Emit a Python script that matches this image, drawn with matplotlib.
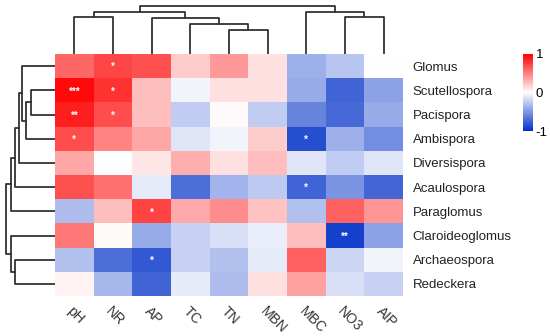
"""
Clustered correlation heatmap: AMF genera vs soil properties.
"""
import numpy as np
import matplotlib.pyplot as plt
from matplotlib.colors import LinearSegmentedColormap

plt.rcParams['font.family'] = ['Liberation Sans', 'DejaVu Sans']

# --- Data ---
genera = ['Glomus', 'Scutellospora', 'Pacispora', 'Ambispora', 'Diversispora',
          'Acaulospora', 'Paraglomus', 'Claroideoglomus', 'Archaeospora', 'Redeckera']
factors = ['pH', 'NR', 'AP', 'TC', 'TN', 'MBN', 'MBC', 'NO3', 'AIP']

corr = np.array([
    [0.60, 0.72, 0.68, 0.20, 0.40, 0.12, -0.38, -0.28, 0.00],
    [0.96, 0.80, 0.25, -0.05, 0.12, 0.12, -0.40, -0.75, -0.45],
    [0.88, 0.70, 0.25, -0.25, 0.02, -0.25, -0.60, -0.72, -0.40],
    [0.70, 0.48, 0.35, -0.12, -0.05, 0.20, -0.85, -0.38, -0.55],
    [0.35, -0.01, 0.10, 0.32, 0.12, 0.25, -0.12, -0.25, -0.12],
    [0.68, 0.56, -0.10, -0.70, -0.36, -0.26, -0.75, -0.52, -0.74],
    [-0.32, 0.25, 0.74, 0.33, 0.45, 0.24, -0.30, 0.62, 0.42],
    [0.53, 0.02, -0.40, -0.22, -0.15, -0.08, 0.25, -0.92, -0.45],
    [-0.30, -0.70, -0.80, -0.22, -0.30, -0.10, 0.62, -0.20, -0.05],
    [0.05, -0.35, -0.75, -0.10, -0.32, 0.12, 0.36, -0.15, -0.22],
])

stars = {(0, 1): '*', (1, 0): '***', (1, 1): '*', (2, 0): '**', (2, 1): '*',
         (3, 0): '*', (3, 6): '*', (5, 6): '*', (6, 2): '*', (7, 7): '**', (8, 2): '*'}

# merges: (childA, childB, height); new cluster ids continue after leaves
colMerges = [(0, 1, 37), (4, 5, 24), (3, 10, 30), (2, 11, 36), (9, 12, 42),
             (7, 8, 37), (6, 14, 42), (13, 15, 48)]
rowMerges = [(1, 2, 24), (10, 3, 29), (0, 11, 32.7), (12, 4, 36), (13, 5, 40),
             (14, 6, 44), (8, 9, 40), (7, 16, 44), (15, 17, 49)]


def dendroSegments(nLeaves, merges):
    pos = {i: i + 0.5 for i in range(nLeaves)}
    hgt = {i: 0.0 for i in range(nLeaves)}
    segs = []
    for k, (a, b, h) in enumerate(merges):
        segs.append(([pos[a], pos[a], pos[b], pos[b]], [hgt[a], h, h, hgt[b]]))
        pos[nLeaves + k] = (pos[a] + pos[b]) / 2
        hgt[nLeaves + k] = h
    return segs


W, H = 550, 336
fig = plt.figure(figsize=(W / 100, H / 100), dpi=100)
hmL, hmR, hmT, hmB = 55, 403, 54, 296

cmap = LinearSegmentedColormap.from_list('bwr2', ['#0030C8', '#FFFFFF', '#FF0000'])

ax = fig.add_axes([hmL / W, 1 - hmB / H, (hmR - hmL) / W, (hmB - hmT) / H])
ax.pcolormesh(np.arange(len(factors) + 1), np.arange(len(genera) + 1), corr,
              cmap=cmap, vmin=-1, vmax=1)
ax.set_xlim(0, len(factors))
ax.set_ylim(len(genera), 0)
for (r, c), s in stars.items():
    ax.text(c + 0.5, r + 0.55, s, color='white', ha='center', va='center',
            fontsize=7, fontweight='bold')
for sp in ax.spines.values():
    sp.set_visible(False)
ax.set_xticks(np.arange(len(factors)) + 0.5)
ax.set_xticklabels(factors, rotation=-45, ha='left', va='top',
                   rotation_mode='anchor', fontsize=10, color='#333333')
ax.set_yticks(np.arange(len(genera)) + 0.5)
ax.set_yticklabels(genera, fontsize=9.5, color='#222222')
ax.yaxis.tick_right()
ax.tick_params(axis='y', length=0, pad=7)
ax.tick_params(axis='x', length=0, pad=6)

# column dendrogram
axc = fig.add_axes([hmL / W, 1 - hmT / H, (hmR - hmL) / W, hmT / H])
for xs, ys in dendroSegments(len(factors), colMerges):
    axc.plot(xs, ys, color='#333333', lw=1.3)
axc.set_xlim(0, len(factors))
axc.set_ylim(0, 54)
axc.axis('off')

# row dendrogram
axr = fig.add_axes([0, 1 - hmB / H, hmL / W, (hmB - hmT) / H])
for ys, xs in dendroSegments(len(genera), rowMerges):
    axr.plot(xs, ys, color='#333333', lw=1.3)
axr.set_ylim(len(genera), 0)
axr.set_xlim(55, 0)
axr.axis('off')

# colorbar
cax = fig.add_axes([523 / W, 1 - 131 / H, 10 / W, 77 / H])
grad = np.linspace(-1, 1, 256).reshape(-1, 1)
cax.imshow(grad, aspect='auto', cmap=cmap, origin='lower', extent=[0, 1, -1, 1])
cax.set_xticks([])
cax.yaxis.tick_right()
cax.set_yticks([-1, 0, 1])
cax.set_yticklabels(['-1', '0', '1'], fontsize=9.5)
cax.tick_params(length=0, pad=2)
for sp in cax.spines.values():
    sp.set_visible(False)

fig.savefig('out.png', dpi=100)
